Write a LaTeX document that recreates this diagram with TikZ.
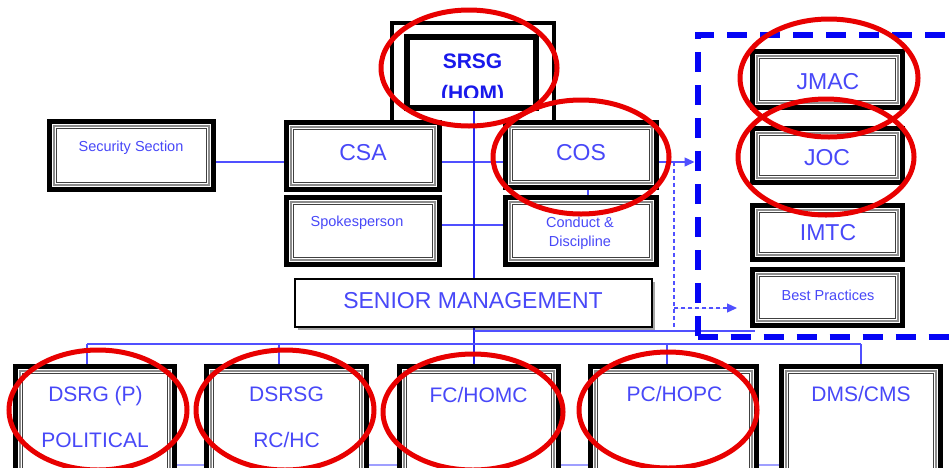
\documentclass[tikz,border=0pt]{standalone}
\usepackage{fontspec}
\setmainfont{Liberation Sans}
\usetikzlibrary{arrows.meta,backgrounds,shadows}

\definecolor{txtblue}{RGB}{72,72,248}
\definecolor{hdblue}{RGB}{25,25,235}
\definecolor{lineblue}{RGB}{80,80,255}
\definecolor{trunkblue}{RGB}{40,40,240}
\definecolor{dashblue}{RGB}{5,5,245}
\definecolor{ringred}{RGB}{232,0,0}

\tikzset{
  unitbox/.style={draw=black, line width=5pt, fill=white, inner sep=0pt,
    path picture={
      \draw[black!45, line width=1.3pt]
        ([shift={(4.6pt,-4.6pt)}]path picture bounding box.north west) rectangle
        ([shift={(-4.6pt,4.6pt)}]path picture bounding box.south east);
      \draw[black!75, line width=0.8pt]
        ([shift={(7.2pt,-7.2pt)}]path picture bounding box.north west) rectangle
        ([shift={(-7.2pt,7.2pt)}]path picture bounding box.south east);
    }},
  txt/.style={text=txtblue, inner sep=0pt, anchor=center, text depth=0pt},
  fbig/.style={font=\fontsize{23}{26}\selectfont, text height=16.5pt},
  fmid/.style={font=\fontsize{21}{24}\selectfont, text height=15.1pt},
  fsmall/.style={font=\fontsize{14.5}{17}\selectfont, text height=10.4pt},
  hdtxt/.style={text=hdblue, inner sep=0pt, anchor=center, text height=15.1pt, text depth=0pt,
    font=\fontsize{21}{24}\selectfont\bfseries},
  conn/.style={draw=lineblue, line width=1.3pt},
  trunk/.style={draw=trunkblue, line width=2pt},
  dconn/.style={draw=lineblue, line width=1.2pt, dash pattern=on 4pt off 3pt},
  tip/.style={-{Triangle[length=10pt,width=9pt]}},
  ring/.style={draw=ringred, line width=5pt},
}

\begin{document}
\begin{tikzpicture}[x=1pt,y=-1pt]
\clip (0,0) rectangle (952,467);

% ---- top: head of mission frame ----
\draw[line width=4pt, line join=miter] (392,121) -- (392,23) -- (554,23) -- (554,121);
\node[draw=black, line width=6pt, fill=white, inner sep=0pt,
      minimum width=129pt, minimum height=71pt] (srsg) at (471.5,72.5) {};
\node[hdtxt] (srsg-t1) at (472.5,61) {SRSG};
\begin{scope}
  \clip (410,40) rectangle (533,97.5);
  \node[hdtxt] (srsg-t2) at (472.5,92.5) {(HOM)};
\end{scope}

% ---- staff offices ----
\node[unitbox, minimum width=164pt, minimum height=68pt] (sec) at (131.5,155.5) {};
\node[unitbox, minimum width=153pt, minimum height=67pt] (csa) at (363,156) {};
\node[unitbox, minimum width=153pt, minimum height=67pt] (spk) at (363,231) {};
\node[unitbox, minimum width=151pt, minimum height=65pt] (cos) at (581,155) {};
\node[unitbox, minimum width=151pt, minimum height=67pt] (cnd) at (581,231) {};

\node[txt, fsmall] (sec-t) at (131,146.5) {Security Section};
\node[txt, fbig] (csa-t) at (363,152) {CSA};
\node[txt, fsmall] (spk-t) at (357,221) {Spokesperson};
\node[txt, fbig] (cos-t) at (581,152) {COS};
\node[txt, fsmall] (cnd-t1) at (580,222) {Conduct \&};
\node[txt, fsmall] (cnd-t2) at (580,241.5) {Discipline};

% ---- senior management ----
\node[draw=black, line width=1.3pt, fill=white, inner sep=0pt,
      minimum width=357pt, minimum height=48pt,
      drop shadow={shadow xshift=2.5pt, shadow yshift=-2.5pt, opacity=0.35, fill=black}]
      (sm) at (473.5,303) {};
\node[txt, fbig] (sm-t) at (473,300.5) {SENIOR MANAGEMENT};

% ---- integrated centres ----
\node[draw=dashblue, line width=6pt, dash pattern=on 20pt off 13pt, inner sep=0pt,
      minimum width=302.5pt, minimum height=302pt] (grp) at (848.75,186) {};
\node[unitbox, minimum width=150pt, minimum height=56pt] (jmac) at (827.5,79.5) {};
\node[unitbox, minimum width=150pt, minimum height=54pt] (joc) at (827.5,155.5) {};
\node[unitbox, minimum width=150pt, minimum height=54pt] (imtc) at (827.5,232.5) {};
\node[unitbox, minimum width=150pt, minimum height=56pt] (bp) at (827.5,297.5) {};
\node[txt, fbig] (jmac-t) at (828,81.5) {JMAC};
\node[txt, fbig] (joc-t) at (827,157) {JOC};
\node[txt, fbig] (imtc-t) at (828,232) {IMTC};
\node[txt, fsmall] (bp-t) at (828,295) {Best Practices};

% ---- components ----
\node[unitbox, minimum width=159pt, minimum height=121pt] (dsrg) at (95,427) {};
\node[unitbox, minimum width=160pt, minimum height=121pt] (dsrsg) at (286.5,427) {};
\node[unitbox, minimum width=159pt, minimum height=121pt] (fc) at (479,427) {};
\node[unitbox, minimum width=166pt, minimum height=121pt] (pc) at (673.5,427) {};
\node[unitbox, minimum width=159pt, minimum height=121pt] (dms) at (861,427) {};

\node[txt, fmid] (dsrg-t1) at (95.5,394) {DSRG (P)};
\node[txt, fmid] (dsrg-t2) at (95,440) {POLITICAL};
\node[txt, fmid] (dsrsg-t1) at (286.5,394) {DSRSG};
\node[txt, fmid] (dsrsg-t2) at (286.5,440) {RC/HC};
\node[txt, fmid] (fc-t) at (478.5,394.5) {FC/HOMC};
\node[txt, fmid] (pc-t) at (674.5,393.5) {PC/HOPC};
\node[txt, fmid] (dms-t) at (861,394) {DMS/CMS};

% ---- connectors, behind the boxes ----
\begin{scope}[on background layer]
  \fill[white] (0,0) rectangle (952,467);
  \draw[conn] ([yshift=-6.5pt]sec.east) -- ([yshift=-6.5pt]sec.east -| csa.west);
  \draw[conn] ([yshift=-6pt]csa.east) -- ([yshift=-6pt]csa.east -| cos.west);
  \draw[conn] ([yshift=6pt]spk.east) -- ([yshift=6pt]spk.east -| cnd.west);
  \draw[conn] ([xshift=7pt]cos.south) -- ([xshift=7pt]cnd.north);
  \draw[conn, tip, draw=lineblue, fill=lineblue]
    ([yshift=-6pt]csa.east -| cos.east) -- ([yshift=-6pt]csa.east -| grp.west);
  % trunk from the head of mission down to the components
  \draw[trunk] (sm.north |- srsg.south) -- (sm.north);
  \draw[trunk] (sm.south) -- (sm.south |- fc.north);
  % dotted reporting line to the integrated centres
  \coordinate (tapT) at (674,162);
  \coordinate (tapB) at (674,332);
  \coordinate (bpArr) at (737,308);
  \draw[dconn] (tapT) -- (tapB);
  \draw[dconn, tip, fill=lineblue] (tapB |- bpArr) -- (bpArr);
  \coordinate (mgmtR) at (755,331);
  \draw[conn] (sm.south |- mgmtR) -- (mgmtR);
  % component bus
  \coordinate (busL) at (87,344);
  \coordinate (busR) at (861,344);
  \draw[conn] (busL) -- (busR);
  \draw[conn] (busL) -- (busL |- dsrg.north);
  \draw[conn] ([xshift=-7.5pt]dsrsg.north |- busL) -- ([xshift=-7.5pt]dsrsg.north);
  \draw[conn] ([xshift=-6.5pt]pc.north |- busL) -- ([xshift=-6.5pt]pc.north);
  \draw[conn] (busR) -- (dms.north);
  \coordinate (baseL) at (95,465);
  \coordinate (baseR) at (861,465);
  \draw[conn, draw=lineblue!55] (baseL) -- (baseR);
\end{scope}

% ---- highlight rings ----
\draw[ring] (469,68) ellipse [x radius=88pt, y radius=58pt];
\draw[ring] (581,157) ellipse [x radius=88pt, y radius=57pt];
\draw[ring] (829,78) ellipse [x radius=89pt, y radius=59pt];
\draw[ring] (826,157) ellipse [x radius=88pt, y radius=58pt];
\draw[ring] (98,410) ellipse [x radius=89pt, y radius=60pt];
\draw[ring] (285,410) ellipse [x radius=89pt, y radius=60pt];
\draw[ring] (473,412) ellipse [x radius=90pt, y radius=58pt];
\draw[ring] (668,410) ellipse [x radius=89pt, y radius=58pt];
\end{tikzpicture}
\end{document}
